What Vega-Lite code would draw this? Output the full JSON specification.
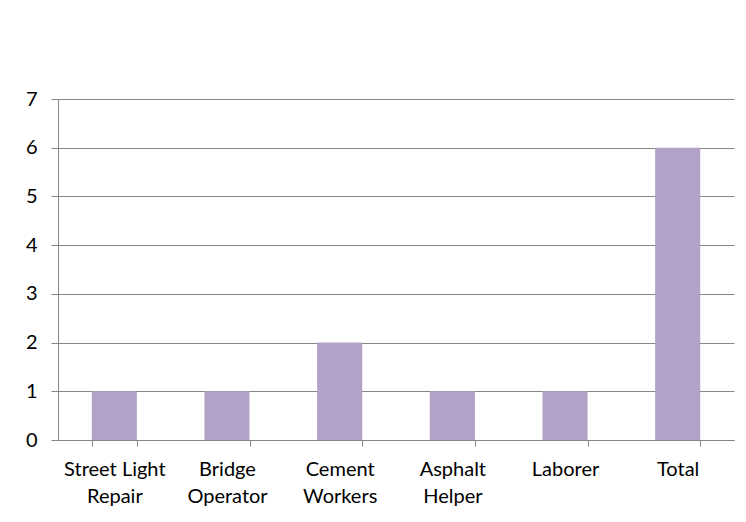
{
  "$schema": "https://vega.github.io/schema/vega-lite/v6.json",
  "autosize": {"type": "none"},
  "width": 676,
  "height": 341,
  "padding": {"left": 58, "top": 99, "right": 12, "bottom": 82},
  "background": "white",
  "config": {
    "view": {"stroke": null},
    "font": "Lato",
    "axis": {
      "labelFont": "Lato",
      "labelFontSize": 20,
      "labelColor": "#000000",
      "domainColor": "#868686",
      "tickColor": "#868686",
      "gridColor": "#868686",
      "tickSize": 6,
      "title": null
    }
  },
  "data": {
    "values": [
      {"job": "Street Light Repair", "count": 1},
      {"job": "Bridge Operator", "count": 1},
      {"job": "Cement Workers", "count": 2},
      {"job": "Asphalt Helper", "count": 1},
      {"job": "Laborer", "count": 1},
      {"job": "Total", "count": 6}
    ]
  },
  "mark": {"type": "bar", "color": "#B3A2C7"},
  "encoding": {
    "x": {
      "field": "job",
      "type": "nominal",
      "sort": null,
      "scale": {"paddingInner": 0.6, "paddingOuter": 0.3},
      "axis": {
        "labelAngle": 0,
        "tickBand": "extent",
        "labelPadding": 13,
        "labelLineHeight": 27,
        "labelExpr": "datum.label == 'Street Light Repair' ? ['Street Light', 'Repair'] : split(datum.label, ' ')"
      }
    },
    "y": {
      "field": "count",
      "type": "quantitative",
      "scale": {"domain": [0, 7]},
      "axis": {
        "values": [0, 1, 2, 3, 4, 5, 6, 7],
        "grid": true,
        "labelPadding": 14,
        "tickSize": 7
      }
    }
  }
}
